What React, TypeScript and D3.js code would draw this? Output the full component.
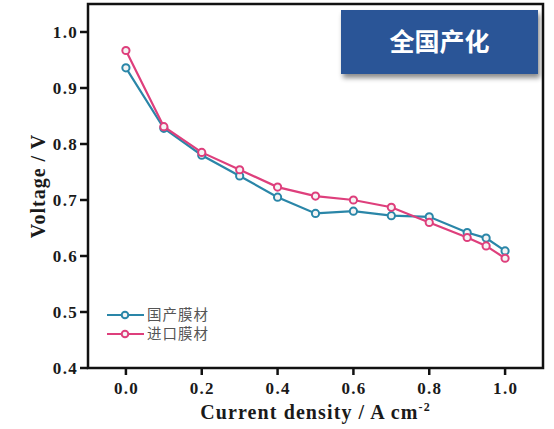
import React from "react";
import * as d3 from "d3";

const currents = [0, 0.1, 0.2, 0.3, 0.4, 0.5, 0.6, 0.7, 0.8, 0.9, 0.95, 1.0];
const domesticV = [0.936, 0.828, 0.780, 0.743, 0.705, 0.676, 0.680, 0.672, 0.670, 0.642, 0.632, 0.609];
const importedV = [0.967, 0.831, 0.785, 0.754, 0.723, 0.707, 0.700, 0.687, 0.660, 0.633, 0.618, 0.596];
const seriesNames = ["国产膜材", "进口膜材"];
const seriesColors = ["#2a86a8", "#de3f7c"];
const xTicks = [0, 0.2, 0.4, 0.6, 0.8, 1.0];
const yTicks = [0.4, 0.5, 0.6, 0.7, 0.8, 0.9, 1.0];
const badgeText = "全国产化";

export default function App() {
  const W = 554, H = 429;
  const left = 88, right = 543, top = 4, bottom = 368;
  const x = d3.scaleLinear().domain([-0.1, 1.1]).range([left, right]);
  const y = d3.scaleLinear().domain([0.4, 1.05]).range([bottom, top]);
  const line = d3.line<number>().x((_, i) => x(currents[i])).y((d) => y(d));
  const series = [domesticV, importedV];
  const serif = "'Liberation Serif', 'Times New Roman', serif";
  const cjk = "'Noto Sans CJK SC', sans-serif";

  return (
    <svg width={W} height={H} style={{ position: "absolute", left: 0, top: 0, background: "#fff" }}>
      <defs>
        <filter id="sh" x="-10%" y="-10%" width="130%" height="140%">
          <feDropShadow dx="2" dy="4" stdDeviation="2.5" floodColor="#000" floodOpacity="0.45" />
        </filter>
      </defs>
      <rect x={0} y={0} width={W} height={H} fill="#fff" />
      {/* frame */}
      <rect x={left} y={top} width={right - left} height={bottom - top} fill="none" stroke="#111" strokeWidth={2.5} />
      {/* y ticks */}
      {yTicks.map((t) => (
        <g key={"y" + t}>
          <line x1={left - 8} x2={left} y1={y(t)} y2={y(t)} stroke="#111" strokeWidth={2.5} />
          <text x={78} y={y(t)} dy="0.35em" textAnchor="end" fontFamily={serif} fontWeight="bold" fontSize={17} fill="#1a1a1a" letterSpacing={1.3}>
            {t.toFixed(1)}
          </text>
        </g>
      ))}
      {/* x ticks */}
      {xTicks.map((t) => (
        <g key={"x" + t}>
          <line x1={x(t)} x2={x(t)} y1={bottom} y2={bottom + 7} stroke="#111" strokeWidth={2.5} />
          <text x={x(t) + 0.6} y={394} textAnchor="middle" fontFamily={serif} fontWeight="bold" fontSize={17} fill="#1a1a1a" letterSpacing={1.3}>
            {t.toFixed(1)}
          </text>
        </g>
      ))}
      {/* axis titles */}
      <text x={(left + right) / 2} y={419} textAnchor="middle" fontFamily={serif} fontWeight="bold" fontSize={20} fill="#1a1a1a" letterSpacing={1.1}>
        Current density / A cm
        <tspan dy={-8} fontSize={12}>-2</tspan>
      </text>
      <text transform={`translate(45,${(top + bottom) / 2}) rotate(-90)`} textAnchor="middle" fontFamily={serif} fontWeight="bold" fontSize={20} fill="#1a1a1a" letterSpacing={1}>
        Voltage / V
      </text>
      {/* series */}
      {series.map((vals, si) => (
        <g key={"s" + si}>
          <path d={line(vals) || ""} fill="none" stroke={seriesColors[si]} strokeWidth={2.2} />
          {vals.map((v, i) => (
            <circle key={i} cx={x(currents[i])} cy={y(v)} r={3.6} fill="#f4f4f4" stroke={seriesColors[si]} strokeWidth={2} />
          ))}
        </g>
      ))}
      {/* legend */}
      {seriesNames.map((n, i) => (
        <g key={"l" + i} transform={`translate(0,${315 + i * 19})`}>
          <line x1={107} x2={144} y1={0} y2={0} stroke={seriesColors[i]} strokeWidth={2.2} />
          <circle cx={125} cy={0} r={3.3} fill="#f4f4f4" stroke={seriesColors[i]} strokeWidth={2} />
          <text x={147} y={0} dy="0.36em" fontFamily={cjk} fontSize={14.5} fill="#555" letterSpacing={1}>
            {n}
          </text>
        </g>
      ))}
      {/* badge */}
      <rect x={341} y={10} width={197} height={64} fill="#2c5497" filter="url(#sh)" />
      <text x={439.5} y={42} dy="0.36em" textAnchor="middle" fontFamily={cjk} fontWeight="bold" fontSize={25} fill="#fff">
        {badgeText}
      </text>
    </svg>
  );
}
